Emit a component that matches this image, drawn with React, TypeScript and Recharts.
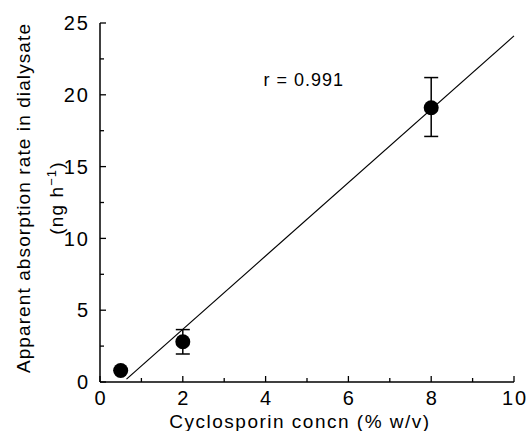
import { ErrorBar, ReferenceDot, ReferenceLine, Scatter, ScatterChart, XAxis, YAxis } from "recharts";

const concn = [0.5, 2, 8];
const rate = [0.8, 2.8, 19.1];
const errLow = [0, 0.85, 2.0];
const errHigh = [0, 0.85, 2.1];

const fitX = [0.64, 10];
const fitY = [0.2, 24.1];

const xTicks = [0, 1, 2, 3, 4, 5, 6, 7, 8, 9, 10];
const yTicks = [0, 2.5, 5, 7.5, 10, 12.5, 15, 17.5, 20, 22.5, 25];

const rLabel = "r = 0.991";
const rPos = { x: 4.92, y: 21.05 };

const FONT = '"Liberation Sans", Arial, Helvetica, sans-serif';

const points = concn.map((x, i) => ({ x, y: rate[i], err: [errLow[i], errHigh[i]] }));

function XTick({ x, y, payload }: any) {
  const major = payload.value % 2 === 0;
  return (
    <g>
      <line x1={x} x2={x} y1={y} y2={y - (major ? 6 : 4)} stroke="#000" strokeWidth={1.3} />
      {major && (
        <text x={x + 1} y={y + 23} textAnchor="middle" fontSize={20} letterSpacing={2} fill="#000" fontFamily={FONT}>
          {payload.value}
        </text>
      )}
    </g>
  );
}

function YTick({ x, y, payload }: any) {
  const major = payload.value % 5 === 0;
  return (
    <g>
      <line x1={x} x2={x + (major ? 6 : 4)} y1={y} y2={y} stroke="#000" strokeWidth={1.3} />
      {major && (
        <text x={x - 10} y={y} dy="0.36em" textAnchor="end" fontSize={20} letterSpacing={2} fill="#000" fontFamily={FONT}>
          {payload.value}
        </text>
      )}
    </g>
  );
}

function YLabel() {
  const cy = 198;
  return (
    <g fontFamily={FONT} fontSize={19} fill="#000" letterSpacing={1.1}>
      <text transform={`translate(30,${cy}) rotate(-90)`} textAnchor="middle">
        Apparent absorption rate in dialysate
      </text>
      <text transform={`translate(63,${cy}) rotate(-90)`} textAnchor="middle">
        (ng h
        <tspan dy={-7} fontSize={13}>−1</tspan>
        <tspan dy={7}>)</tspan>
      </text>
    </g>
  );
}

function XLabel() {
  return (
    <text x={300} y={428} textAnchor="middle" fontFamily={FONT} fontSize={19} letterSpacing={1.5} fill="#000">
      Cyclosporin concn (% w/v)
    </text>
  );
}

export default function App() {
  return (
    <div style={{ width: 528, height: 431, background: "#fff" }}>
      <style>{"body{margin:0}"}</style>
      <ScatterChart width={528} height={431} margin={{ top: 23, right: 14, bottom: 0, left: 0 }}>
        <XAxis
          type="number"
          dataKey="x"
          domain={[0, 10]}
          ticks={xTicks}
          interval={0}
          height={49}
          tickSize={0}
          tickMargin={0}
          tickLine={false}
          axisLine={{ stroke: "#000", strokeWidth: 1.5 }}
          tick={(p: any) => <XTick {...p} />}
          label={{ content: () => <XLabel /> }}
        />
        <YAxis
          type="number"
          dataKey="y"
          domain={[0, 25]}
          ticks={yTicks}
          interval={0}
          width={100}
          tickSize={0}
          tickMargin={0}
          tickLine={false}
          axisLine={{ stroke: "#000", strokeWidth: 1.5 }}
          tick={(p: any) => <YTick {...p} />}
          label={{ content: () => <YLabel /> }}
        />
        <ReferenceLine
          segment={[
            { x: fitX[0], y: fitY[0] },
            { x: fitX[1], y: fitY[1] },
          ]}
          stroke="#000"
          strokeWidth={1.2}
        />
        <ReferenceDot
          x={rPos.x}
          y={rPos.y}
          r={0}
          fill="none"
          stroke="none"
          label={{ value: rLabel, position: "center", fontSize: 18, fill: "#000", fontFamily: FONT, letterSpacing: 1 } as any}
        />
        <Scatter
          data={points}
          isAnimationActive={false}
          shape={(p: any) => <circle cx={p.cx} cy={p.cy} r={7.5} fill="#000" />}
        >
          <ErrorBar dataKey="err" direction="y" width={7} stroke="#000" strokeWidth={1.5} isAnimationActive={false} />
        </Scatter>
      </ScatterChart>
    </div>
  );
}
